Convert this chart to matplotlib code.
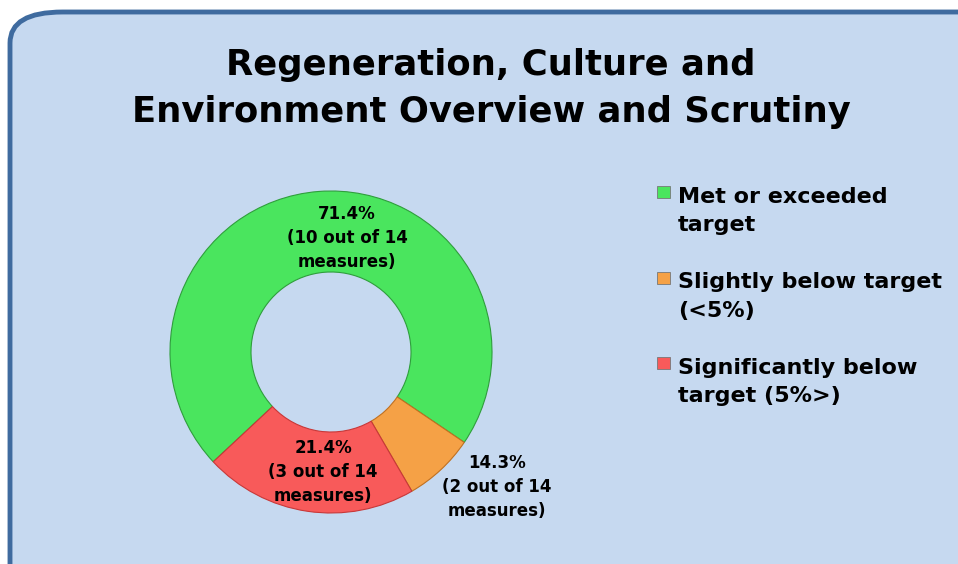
import matplotlib.pyplot as plt
from matplotlib.patches import FancyBboxPatch, Rectangle

categories = ['Met or exceeded\ntarget', 'Slightly below target\n(<5%)',
              'Significantly below\ntarget (5%>)']
# slice sizes as drawn in the picture (counts out of 14)
counts = [10, 1, 3]
slice_labels = ['71.4%\n(10 out of 14\nmeasures)',
                '14.3%\n(2 out of 14\nmeasures)',
                '21.4%\n(3 out of 14\nmeasures)']
colors = ['#4ae55e', '#f5a146', '#f85a5a']
edge_colors = ['#2f9e3c', '#c07020', '#c83838']
title = 'Regeneration, Culture and\nEnvironment Overview and Scrutiny'

plt.rcParams['font.family'] = ['DejaVu Sans']
plt.rcParams['font.weight'] = 'bold'

W, H = 958, 564
fig = plt.figure(figsize=(W / 100, H / 100), dpi=100)
fig.patch.set_facecolor('white')

# rounded panel behind everything
panel = FancyBboxPatch((10 / W, -0.2), 1.2, 1.2 - 12 / H,
                       boxstyle='round,pad=0,rounding_size=0.055',
                       transform=fig.transFigure, facecolor='#c6d9f0',
                       edgecolor='#3f6b9f', linewidth=3.5, zorder=-5)
fig.patches.append(panel)

# va='baseline' on multi-line text puts the last line on y
fig.text(491 / W, 1 - 122 / H, title, ha='center', va='baseline',
         fontsize=25.5, fontweight='bold', linespacing=1.5)

ax = fig.add_axes([(331 - 165) / W, 1 - (352 + 165) / H, 330 / W, 330 / H])
ax.set_facecolor('none')
wedges, _ = ax.pie(counts, colors=colors, startangle=223, counterclock=False,
                   radius=161 / 165,
                   wedgeprops=dict(width=81 / 165, linewidth=0.8))
for w, ec in zip(wedges, edge_colors):
    w.set_edgecolor(ec)
ax.set_aspect('equal')
ax.set_xlim(-1, 1)
ax.set_ylim(-1, 1)
ax.axis('off')

# data labels
label_pos = [(16 / 165, 114 / 165), (166 / 165, -135 / 165),
             (-8 / 165, -120 / 165)]
for (x, y), txt in zip(label_pos, slice_labels):
    ax.text(x, y, txt, ha='center', va='center', fontsize=12,
            fontweight='bold', linespacing=1.45)

# legend drawn by hand so the swatch sits on the first text line
for i, (cat, col) in enumerate(zip(categories, colors)):
    top = 186 + i * 85.5
    fig.patches.append(Rectangle((657 / W, 1 - (top + 12) / H), 13 / W, 12 / H,
                                 transform=fig.transFigure, facecolor=col,
                                 edgecolor='#777777', linewidth=0.6))
    fig.text(678 / W, 1 - (231 + i * 85.5) / H, cat, ha='left',
             va='baseline', fontsize=16, fontweight='bold', linespacing=1.5)

fig.savefig('out.png', dpi=100, facecolor='white')
